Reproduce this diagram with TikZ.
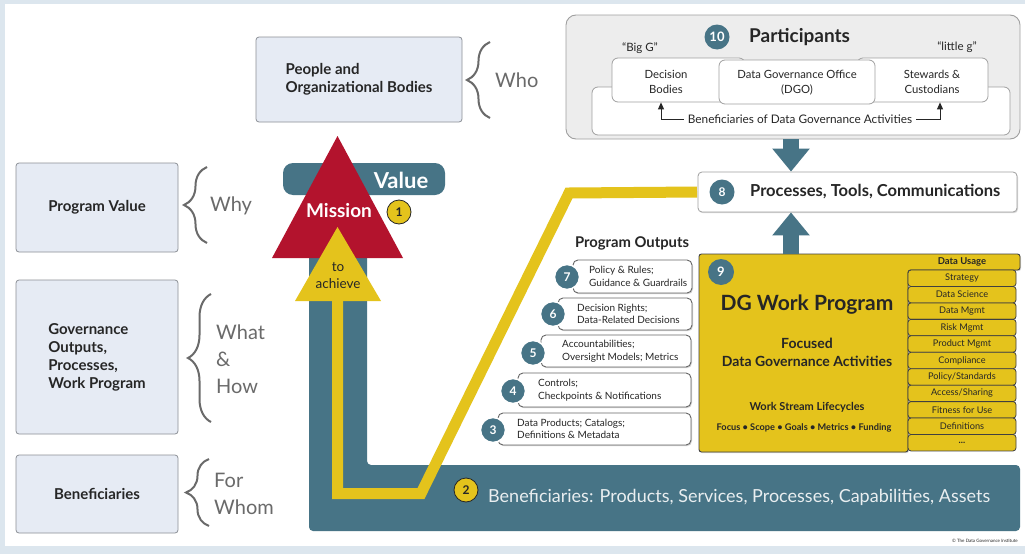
\documentclass[tikz,border=0pt]{standalone}
\usepackage{fontspec}
\setmainfont{Lato}
\usetikzlibrary{arrows.meta,decorations.pathreplacing,shadows}
\definecolor{bgblue}{HTML}{DCE6EE}
\definecolor{dgteal}{HTML}{477486}
\definecolor{dgred}{HTML}{B3132D}
\definecolor{dgyellow}{HTML}{E4C31C}
\definecolor{boxfill}{HTML}{E6EBF4}
\definecolor{boxline}{HTML}{8C9096}
\definecolor{bracegray}{HTML}{6A6A6A}
\definecolor{txt}{HTML}{262626}
\definecolor{partfill}{HTML}{EDEDED}
\newcommand{\fsz}[2]{\fontsize{#1}{#2}\selectfont}
\begin{document}
\begin{tikzpicture}[x=1pt,y=-1pt,text=txt,
  leftbox/.style={draw=boxline, fill=boxfill, rounded corners=3pt, line width=0.8pt, font=\bfseries\fsz{15}{18}, align=left, inner sep=0pt},
  bracestyle/.style={draw=bracegray, line width=2pt, decorate, decoration={brace, amplitude=23pt, aspect=0.5}},
  bracetext/.style={text=bracegray, font=\fsz{20}{27}, align=left, anchor=west, inner sep=0pt},
  whitebox/.style={draw=gray!75, fill=white, rounded corners=6pt, line width=0.8pt, inner sep=0pt},
  tealdot/.style={circle, fill=dgteal, draw=white, line width=1.5pt, text=white, font=\bfseries\fsz{12}{12}, minimum size=25pt, inner sep=0pt},
  yeldot/.style={circle, fill=dgyellow, draw=txt, line width=0.8pt, text=txt, font=\bfseries\fsz{12}{12}, minimum size=24pt, inner sep=0pt},
  outbox/.style={draw=gray!80!black, fill=white, rounded corners=5pt, line width=0.9pt, inner sep=0pt, drop shadow={shadow xshift=1pt, shadow yshift=-1.2pt, opacity=0.35}},
  outtext/.style={anchor=west, align=left, font=\fsz{10}{12.5}, inner sep=0pt},
  rowbox/.style={draw=black!75, fill=dgyellow, line width=0.8pt, rounded corners=3pt, font=\fsz{9.2}{10}, inner sep=0pt, minimum width=108pt, minimum height=16.45pt},
  fatarrow/.style={draw=dgteal, line width=16pt, -{Triangle[width=36pt,length=23pt]}},
  smallarrow/.style={draw=txt, line width=0.9pt, -{Triangle[width=6pt,length=7pt]}}]
\useasboundingbox (0,0) rectangle (1025,554);
% background
\fill[bgblue] (0,0) rectangle (1025,554);
\fill[white] (5,4) rectangle (1025,546);

% left column
\node[leftbox, minimum width=162pt, minimum height=89pt] (pv) at (97,207.5) {Program Value};
\node[leftbox, minimum width=162pt, minimum height=154pt] (gov) at (97,357) {Governance\\Outputs,\\Processes,\\Work Program};
\node[leftbox, minimum width=162pt, minimum height=78pt] (ben) at (97,494) {Beneficiaries};
\node[leftbox, minimum width=206pt, minimum height=85pt] (ppl) at (359,79.5) {People and\\Organizational Bodies};

\draw[bracestyle] (490,118) -- (490,42);
\draw[bracestyle] (207,243) -- (207,167);
\draw[bracestyle] (211,422) -- (211,294);
\draw[bracestyle] (209,526) -- (209,459);
\node[bracetext] (who) at (495,80) {Who};
\node[bracetext] (why) at (210,206) {Why};
\node[bracetext] (wh) at (216,359) {What\\\&\\How};
\node[bracetext] (fw) at (214,494) {For\\Whom};

% teal L band
\fill[dgteal, rounded corners=4pt] (309,178) -- (367,178) -- (367,465) -- (1020,465) -- (1020,531) -- (309,531) -- cycle;

% box 8
\node[whitebox, rounded corners=4pt, minimum width=319pt, minimum height=40pt, drop shadow={shadow xshift=1pt, shadow yshift=-1.2pt, opacity=0.3}] (b8) at (857.5,192) {};
\node[tealdot, draw=none] (c8) at (722,192) {8};
\node[anchor=west, font=\bfseries\fsz{16.5}{16.5}, inner sep=0pt] (t8) at (750,192) {Processes, Tools, Communications};

% yellow path
\coordinate (ytri) at (337.5,300);
\draw[dgyellow, line width=11pt, shorten >=0.6pt] (ytri) -- (337.5,493.5) -- (421,493.5) -- (569,193) -- (b8.west);

% value bar, mission, to achieve
\node[fill=dgteal, rounded corners=10pt, minimum width=162pt, minimum height=32pt, inner sep=0pt] (valbar) at (364,179) {};
\node[text=white, font=\bfseries\fsz{22}{22}, inner sep=0pt] (val) at (401,180) {Value};
\fill[dgred] (272,258) -- (337.5,136) -- (403,258) -- cycle;
\node[text=white, font=\bfseries\fsz{19}{19}, inner sep=0pt] (mis) at (339,211) {Mission};
\fill[dgyellow] (295,301) -- (337.5,227) -- (381,301) -- cycle;
\node[font=\fsz{13.5}{17}, align=center, inner sep=0pt] (ach) at (338,276) {to\\achieve};
\node[yeldot] (c1) at (399,212) {1};

% beneficiaries band
\node[yeldot] (c2) at (466,490) {2};
\node[anchor=west, text=white!88!dgteal, font=\fsz{18}{18}, inner sep=0pt] (bentxt) at (488,497) {Beneficiaries: Products, Services, Processes, Capabilities, Assets};

% program outputs
\node[font=\bfseries\fsz{14.8}{15}, inner sep=0pt] (potitle) at (632,243) {Program Outputs};
\node[outbox, minimum width=119pt, minimum height=33pt] (o7) at (632.5,276.5) {};
\node[outbox, minimum width=134pt, minimum height=32pt] (o6) at (625,314) {};
\node[outbox, minimum width=150pt, minimum height=32pt] (o5) at (616,351) {};
\node[outbox, minimum width=173pt, minimum height=34pt] (o4) at (604.5,390) {};
\node[outbox, minimum width=193pt, minimum height=32pt] (o3) at (594.5,429) {};
\node[tealdot] (c7) at (567,277) {7};
\node[tealdot] (c6) at (553,314) {6};
\node[tealdot] (c5) at (533,353) {5};
\node[tealdot] (c4) at (513,391) {4};
\node[tealdot] (c3) at (493,430) {3};
\node[outtext] (t7) at (589,276.5) {Policy \& Rules;\\Guidance \& Guardrails};
\node[outtext] (t6) at (577,314) {Decision Rights;\\Data-Related Decisions};
\node[outtext] (t5) at (562,351) {Accountabilities;\\Oversight Models; Metrics};
\node[outtext] (t4) at (538,390) {Controls;\\Checkpoints \& Notifications};
\node[outtext] (t3) at (517,429) {Data Products; Catalogs;\\Definitions \& Metadata};

% DG work program
\filldraw[fill=dgyellow, draw=black!75, line width=0.9pt, rounded corners=2.5pt, drop shadow={shadow xshift=1pt, shadow yshift=-1.2pt, opacity=0.3}]
  (699,452) -- (699,254) -- (1020,254) -- (1020,270) -- (908,270) -- (908,452) -- cycle;
\coordinate (dgtop) at (791,254);
\node[font=\bfseries\fsz{9.5}{10}, inner sep=0pt] (hdr) at (962,262) {Data Usage};
\foreach \t [count=\i] in {Strategy, Data Science, Data Mgmt, Risk Mgmt, Product Mgmt, Compliance, Policy/Standards, Access/Sharing, Fitness for Use, Definitions, \textbf{...}}
  \node[rowbox] (row\i) at (962,{270+16.45*\i-8.225}) {\t};
\node[tealdot, draw=none, minimum size=26pt, font=\bfseries\fsz{13}{13}] (c9) at (721,272) {9};
\node[font=\bfseries\fsz{21}{21}, inner sep=0pt] (dgt) at (807,305) {DG Work Program};
\node[font=\bfseries\fsz{14}{17.5}, align=center, inner sep=0pt] (foc) at (807,352.5) {Focused\\Data Governance Activities};
\node[font=\bfseries\fsz{11}{11}, inner sep=0pt] (wsl) at (807,407) {Work Stream Lifecycles};
\node[font=\bfseries\fsz{9.2}{10}, inner sep=0pt] (fsg) at (804,428) {Focus • Scope • Goals • Metrics • Funding};

% participants
\node[draw=gray!75, fill=partfill, rounded corners=10pt, line width=0.9pt, minimum width=454pt, minimum height=124pt, inner sep=0pt] (part) at (793,77) {};
\node[tealdot, draw=none, font=\bfseries\fsz{13}{13}] (c10) at (717,37) {10};
\node[anchor=west, font=\bfseries\fsz{19}{19}, inner sep=0pt] (ptitle) at (749,37) {Participants};
\node[font=\fsz{11.5}{12}, inner sep=0pt] (bigg) at (640,48) {“Big G”};
\node[font=\fsz{11.5}{12}, inner sep=0pt] (littleg) at (957,47) {“little g”};
\node[whitebox, minimum width=418pt, minimum height=48pt] (benbox) at (801,111) {};
\node[whitebox, minimum width=133pt, minimum height=44pt] (db) at (678.5,80) {};
\node[whitebox, minimum width=131pt, minimum height=44pt] (st) at (922.5,80) {};
\node[whitebox, minimum width=156pt, minimum height=44pt] (dgo) at (797,82) {};
\node[font=\fsz{11.3}{14.5}, align=center, inner sep=0pt] (dbt) at (666,82) {Decision\\Bodies};
\node[font=\fsz{11.3}{14.5}, align=center, inner sep=0pt] (dgot) at (797,82.5) {Data Governance Office\\(DGO)};
\node[font=\fsz{11.3}{14.5}, align=center, inner sep=0pt] (stt) at (932,82) {Stewards \&\\Custodians};
\node[font=\fsz{11.8}{12}, inner sep=0pt] (bent) at (800,119) {Beneficiaries of Data Governance Activities};
\coordinate (la) at (661,0);
\coordinate (ra) at (940,0);
\draw[smallarrow] ([xshift=-4pt]bent.west) -| (la |- db.south);
\draw[smallarrow] ([xshift=4pt]bent.east) -| (ra |- st.south);

% fat arrows
\coordinate (ax) at (791,0);
\draw[fatarrow] (ax |- part.south) -- (ax |- b8.north);
\draw[fatarrow] (dgtop) -- (ax |- b8.south);

% copyright
\node[anchor=east, font=\fsz{4.5}{5}, inner sep=0pt] (copy) at (1018,541) {© The Data Governance Institute};
\end{tikzpicture}
\end{document}
